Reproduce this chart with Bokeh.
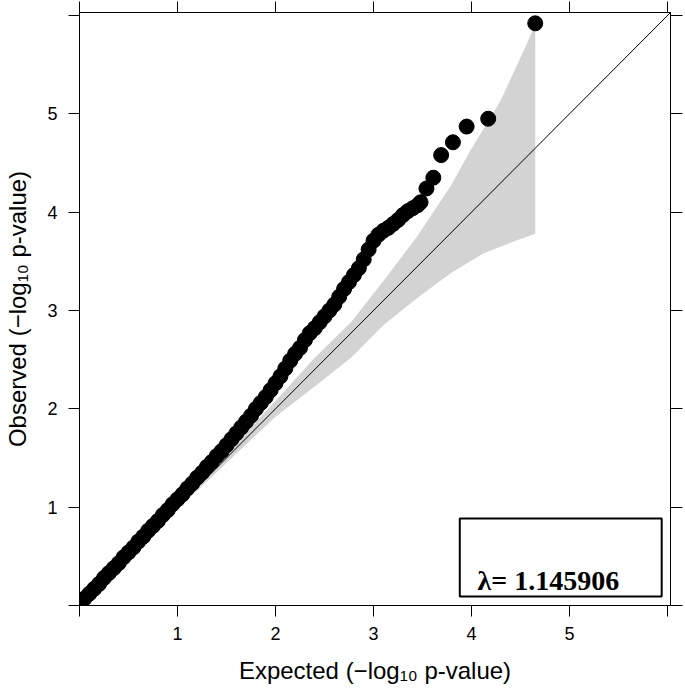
from bokeh.plotting import figure
from bokeh.models import (Range1d, LinearAxis, FixedTicker, BoxAnnotation, Label, Slope)
from bokeh.embed import file_html
from bokeh.resources import INLINE

# ---- data ----
expected = [0.00, 0.05, 0.10, 0.15, 0.20, 0.25, 0.30, 0.35, 0.40, 0.45,
            0.50, 0.55, 0.60, 0.65, 0.70, 0.75, 0.80, 0.85, 0.90, 0.95,
            1.00, 1.05, 1.10, 1.15, 1.20, 1.25, 1.30, 1.35, 1.40, 1.45,
            1.50, 1.55, 1.60, 1.65, 1.70, 1.75, 1.80, 1.85, 1.90, 1.95,
            2.00, 2.05, 2.10, 2.15, 2.20, 2.25, 2.30, 2.35, 2.40, 2.45,
            2.50, 2.55, 2.60, 2.65, 2.70, 2.75, 2.80, 2.85, 2.90, 2.95,
            3.00, 3.05, 3.10, 3.15, 3.20, 3.25, 3.30, 3.35, 3.40, 3.45,
            3.48, 3.54, 3.61, 3.69, 3.81, 3.95, 4.17, 4.65]
observed = [0.02, 0.07, 0.12, 0.17, 0.22, 0.28, 0.33, 0.38, 0.43, 0.49,
            0.54, 0.59, 0.65, 0.70, 0.76, 0.81, 0.86, 0.92, 0.97, 1.03,
            1.08, 1.13, 1.19, 1.24, 1.30, 1.35, 1.41, 1.46, 1.52, 1.57,
            1.63, 1.69, 1.75, 1.81, 1.87, 1.93, 2.00, 2.06, 2.12, 2.19,
            2.26, 2.33, 2.41, 2.49, 2.56, 2.62, 2.70, 2.77, 2.82, 2.88,
            2.94, 3.00, 3.06, 3.14, 3.22, 3.29, 3.36, 3.43, 3.52, 3.62,
            3.71, 3.77, 3.81, 3.84, 3.88, 3.92, 3.97, 4.01, 4.04, 4.07,
            4.10, 4.24, 4.35, 4.58, 4.71, 4.87, 4.95, 5.92]

band_upper_x = [0.00, 1.00, 1.50, 2.00, 2.40, 2.77, 3.10, 3.45, 3.79, 3.99, 4.30, 4.65]
band_upper_y = [0.00, 1.02, 1.55, 2.08, 2.52, 2.88, 3.30, 3.76, 4.27, 4.63, 5.14, 5.90]
band_lower_x = [0.00, 1.00, 1.50, 2.00, 2.43, 2.77, 3.10, 3.45, 3.79, 4.12, 4.40, 4.65]
band_lower_y = [0.00, 0.98, 1.45, 1.92, 2.25, 2.52, 2.85, 3.13, 3.38, 3.58, 3.69, 3.78]

ticks = [0, 1, 2, 3, 4, 5, 6]
tick_labels = {0: "", 1: "1", 2: "2", 3: "3", 4: "4", 5: "5", 6: ""}
lambda_text = "λ= 1.145906"

FONT = "Liberation Sans"

p = figure(width=685, height=688, output_backend="svg", toolbar_location=None,
           x_range=Range1d(0, 6.03), y_range=Range1d(0, 6.03),
           min_border_left=79, min_border_right=15, min_border_top=12, min_border_bottom=83,
           x_axis_location=None, y_axis_location=None)
p.grid.visible = False
p.outline_line_color = "black"
p.outline_line_width = 1
p.background_fill_color = "white"
p.border_fill_color = "white"

def style_axis(ax, show_labels, tick_out):
    ax.ticker = FixedTicker(ticks=ticks)
    ax.major_label_overrides = tick_labels if show_labels else {t: "" for t in ticks}
    ax.major_tick_out = tick_out
    ax.major_tick_in = 0
    ax.minor_tick_line_color = None
    ax.axis_line_color = "black"
    ax.major_tick_line_color = "black"
    ax.major_label_text_font = FONT
    ax.major_label_text_font_size = "18px" if show_labels else "0px"
    ax.major_label_text_color = "black"
    ax.major_label_standoff = 10 if show_labels else 0
    ax.axis_label_text_font = FONT
    ax.axis_label_text_font_size = "24px"
    ax.axis_label_text_font_style = "normal"
    ax.axis_label_text_color = "black"

xb = LinearAxis(axis_label="Expected (−log₁₀ p-value)")
style_axis(xb, True, 11)
xb.axis_label_standoff = 14
p.add_layout(xb, "below")

yl = LinearAxis(axis_label="Observed (−log₁₀ p-value)")
style_axis(yl, True, 11)
yl.major_label_standoff = 11
yl.axis_label_standoff = 13
p.add_layout(yl, "left")

xa = LinearAxis()
style_axis(xa, False, 11)
p.add_layout(xa, "above")

yr = LinearAxis()
style_axis(yr, False, 12)
p.add_layout(yr, "right")

# confidence band
p.patch(band_upper_x + band_lower_x[::-1], band_upper_y + band_lower_y[::-1],
        fill_color="#d3d3d3", line_color=None)

# diagonal
p.add_layout(Slope(gradient=1, y_intercept=0, line_color="black", line_width=1))

# points
p.scatter(expected, observed, size=15, fill_color="black", line_color="black")

# lambda box
p.add_layout(BoxAnnotation(left=3.88, right=5.94, bottom=0.092, top=0.885,
                           fill_alpha=0, line_color="black", line_width=2, line_alpha=1))
p.add_layout(Label(x=4.06, y=0.254, text=lambda_text, text_font="Liberation Serif",
                   text_font_style="bold", text_font_size="28px", text_color="black",
                   text_baseline="alphabetic"))

open("out.html", "w").write(file_html(p, INLINE))
